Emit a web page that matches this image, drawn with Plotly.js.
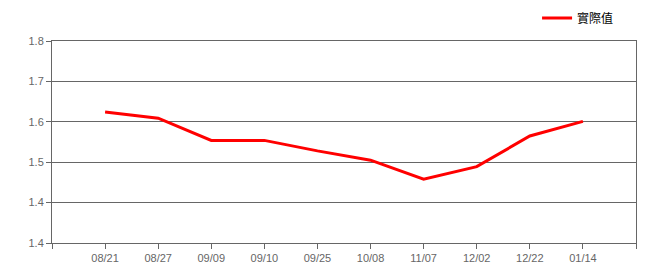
<!DOCTYPE html>
<html>
<head>
<meta charset="utf-8">
<script src="https://cdn.plot.ly/plotly-3.0.1.min.js"></script>
<style>html,body{margin:0;padding:0;background:#fff;}#chart{width:650px;height:271px;}</style>
</head>
<body>
<div id="chart"></div>
<script>
var categories = ["08/21","08/27","09/09","09/10","09/25","10/08","11/07","12/02","12/22","01/14"];
var actualValues = [1.624, 1.609, 1.554, 1.554, 1.528, 1.505, 1.458, 1.489, 1.565, 1.601];
var seriesName = "實際值";
var yTickVals = [1.3, 1.4, 1.5, 1.6, 1.7, 1.8];
var yTickText = ["1.4", "1.4", "1.5", "1.6", "1.7", "1.8"];

var xIdx = categories.map(function(_, i){ return i; });
var xTickVals = [-1].concat(xIdx).concat([categories.length]);
var xTickText = [""].concat(categories).concat([""]);

var trace = {
  x: xIdx,
  y: actualValues,
  type: "scatter",
  mode: "lines",
  name: seriesName,
  line: {color: "#ff0000", width: 3},
  hoverinfo: "none"
};

var layout = {
  width: 650, height: 271,
  margin: {l: 52, r: 14, t: 41, b: 28, autoexpand: false},
  paper_bgcolor: "#ffffff",
  plot_bgcolor: "#ffffff",
  showlegend: true,
  legend: {
    x: 0.971, xanchor: "right", y: 1.114, yanchor: "middle",
    orientation: "h",
    font: {family: "Noto Sans CJK TC, sans-serif", size: 12, color: "#000"},
    bgcolor: "rgba(0,0,0,0)"
  },
  xaxis: {
    range: [-1, categories.length],
    tickmode: "array",
    tickvals: xTickVals,
    ticktext: xTickText,
    showgrid: false,
    zeroline: false,
    showline: true,
    mirror: true,
    linecolor: "#666666",
    linewidth: 1,
    ticks: "outside",
    ticklen: 5,
    tickcolor: "#666666",
    tickfont: {family: "Liberation Sans, Arial, sans-serif", size: 11, color: "#666666"},
    fixedrange: true
  },
  yaxis: {
    range: [1.3, 1.8],
    tickmode: "array",
    tickvals: yTickVals,
    ticktext: yTickText,
    showgrid: true,
    gridcolor: "#666666",
    gridwidth: 1,
    zeroline: false,
    showline: true,
    mirror: true,
    linecolor: "#666666",
    linewidth: 1,
    ticks: "outside",
    ticklen: 5,
    tickcolor: "#666666",
    tickfont: {family: "Liberation Sans, Arial, sans-serif", size: 11, color: "#666666"},
    fixedrange: true
  }
};

Plotly.newPlot("chart", [trace], layout, {displayModeBar: false, staticPlot: true});
</script>
</body>
</html>
